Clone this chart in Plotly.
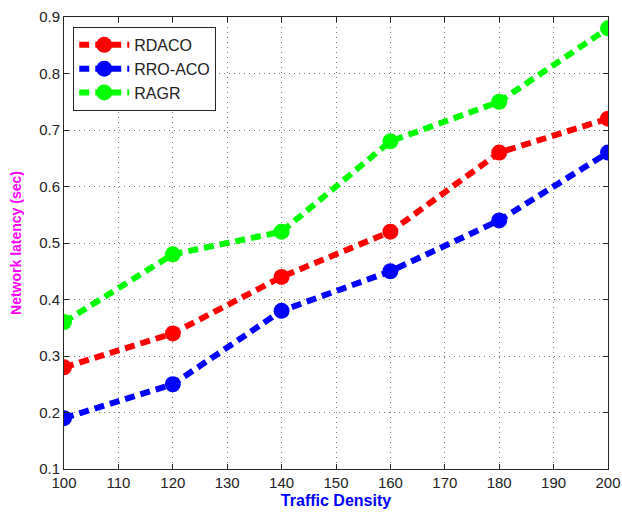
import plotly.graph_objects as go

traffic_density = [100, 120, 140, 160, 180, 200]
rdaco = [0.28, 0.34, 0.44, 0.52, 0.66, 0.72]
rro_aco = [0.19, 0.25, 0.38, 0.45, 0.54, 0.66]
ragr = [0.36, 0.48, 0.52, 0.68, 0.75, 0.88]

x_ticks = list(range(100, 201, 10))
y_ticks = [round(0.1 * i, 1) for i in range(1, 10)]

series = [
    ("RDACO", rdaco, "#ff0000"),
    ("RRO-ACO", rro_aco, "#0000ff"),
    ("RAGR", ragr, "#00ff00"),
]

fig = go.Figure()
for name, vals, color in series:
    fig.add_trace(go.Scatter(
        x=traffic_density, y=vals, name=name,
        mode="lines+markers",
        line=dict(color=color, width=6, dash="10px,6px"),
        marker=dict(symbol="circle", size=16, color=color),
    ))

axis_common = dict(
    showline=True, linecolor="#262626", linewidth=1, mirror="ticks",
    ticks="inside", ticklen=5, tickcolor="#262626",
    showgrid=True, gridcolor="#777777", griddash="1px,4px", gridwidth=1,
    zeroline=False, automargin=False,
    tickfont=dict(family="Liberation Sans, Arial", size=15, color="#222222"),
)

fig.update_layout(
    width=622, height=518,
    margin=dict(l=64, r=14, t=17, b=49),
    paper_bgcolor="white", plot_bgcolor="white",
    xaxis=dict(
        range=[100, 200], tickvals=x_ticks,
        title=dict(text="<b>Traffic Density</b>", standoff=4,
                   font=dict(family="Liberation Sans, Arial", size=16, color="#0000ff")),
        **axis_common,
    ),
    yaxis=dict(
        range=[0.1, 0.9], tickvals=y_ticks, tickformat=".1f",
        title=dict(text="<b>Network latency (sec)</b>", standoff=14,
                   font=dict(family="Liberation Sans, Arial", size=14, color="#ff00ff")),
        **axis_common,
    ),
    legend=dict(
        x=0.017, y=0.978, xanchor="left", yanchor="top",
        bgcolor="white", bordercolor="#262626", borderwidth=1,
        font=dict(family="Liberation Sans, Arial", size=16, color="#222222"),
        itemwidth=50, tracegroupgap=0,
    ),
    showlegend=True,
)

fig.write_html("out.html")
